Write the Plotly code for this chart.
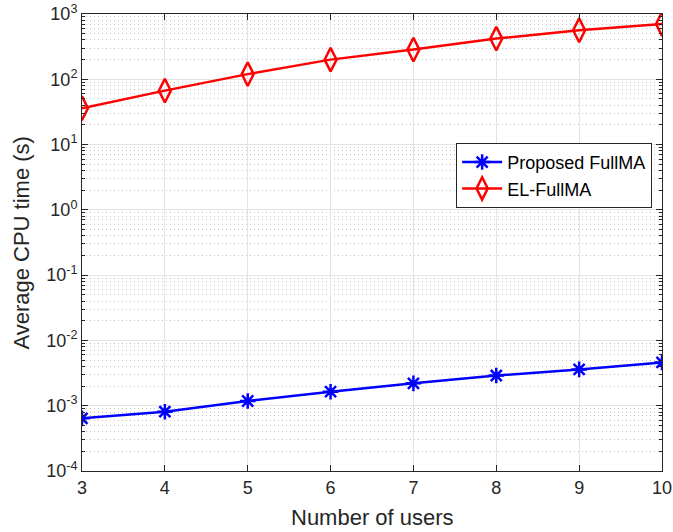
import plotly.graph_objects as go

users = [3, 4, 5, 6, 7, 8, 9, 10]
proposed = [6.4e-4, 8.1e-4, 1.18e-3, 1.64e-3, 2.2e-3, 2.9e-3, 3.6e-3, 4.6e-3]
el_fullma = [36, 67, 120, 200, 285, 420, 563, 703]
ytick_exp = [-4, -3, -2, -1, 0, 1, 2, 3]
x_title = "Number of users"
y_title = "Average CPU time (s)"

FONT = "Liberation Sans, Arial, Helvetica"

fig = go.Figure()
fig.add_trace(go.Scatter(
    x=users, y=proposed, name="Proposed FullMA", mode="lines+markers",
    line=dict(color="#0000ff", width=2.5),
    marker=dict(symbol="asterisk-open", size=13, line=dict(color="#0000ff", width=2.5)),
))
fig.add_trace(go.Scatter(
    x=users, y=el_fullma, name="EL-FullMA", mode="lines+markers",
    line=dict(color="#ff0000", width=2.5),
    marker=dict(symbol="diamond-tall-open", size=17, line=dict(color="#ff0000", width=2.5)),
))

minor_vals = [m * 10.0 ** e for e in ytick_exp[:-1] for m in range(2, 10)]

axis_common = dict(
    showline=True, linecolor="#262626", linewidth=1, mirror="ticks",
    ticks="inside", ticklen=6, tickcolor="#262626",
    showgrid=True, gridcolor="#e3e3e3", gridwidth=1,
    zeroline=False, ticklabeloverflow="allow", automargin=False,
    tickfont=dict(family=FONT, size=18, color="#262626"),
)

fig.update_xaxes(
    range=[3, 10], tickmode="array", tickvals=users, ticktext=[str(u) for u in users],
    **axis_common,
)
fig.update_yaxes(
    type="log", range=[-4, 3], tickmode="array",
    tickvals=[10.0 ** e for e in ytick_exp],
    ticktext=[f"10<sup>{e}</sup>" for e in ytick_exp],
    minor=dict(tickmode="array", tickvals=minor_vals, ticks="inside", ticklen=3,
               tickcolor="#262626", showgrid=True, gridcolor="#c4c4c4",
               griddash="1px,3px", gridwidth=1),
    **axis_common,
)

fig.add_annotation(text=x_title, xref="paper", yref="paper", x=0.5, y=0,
                   xanchor="center", yanchor="top", yshift=-32, showarrow=False,
                   font=dict(family=FONT, size=22, color="#262626"))
fig.add_annotation(text=y_title, xref="paper", yref="paper", x=-0.105, y=0.5,
                   xanchor="center", yanchor="middle", textangle=-90,
                   showarrow=False, font=dict(family=FONT, size=22, color="#262626"))

fig.update_layout(
    width=673, height=532,
    margin=dict(l=82, r=11, t=14, b=61),
    plot_bgcolor="white", paper_bgcolor="white",
    font=dict(family=FONT, color="#262626"),
    legend=dict(
        x=0.983, y=0.718, xanchor="right", yanchor="top",
        bgcolor="white", bordercolor="#262626", borderwidth=1,
        font=dict(family=FONT, size=18, color="#000000"),
        tracegroupgap=0, itemwidth=40,
    ),
    showlegend=True,
)

fig.write_html("out.html")
